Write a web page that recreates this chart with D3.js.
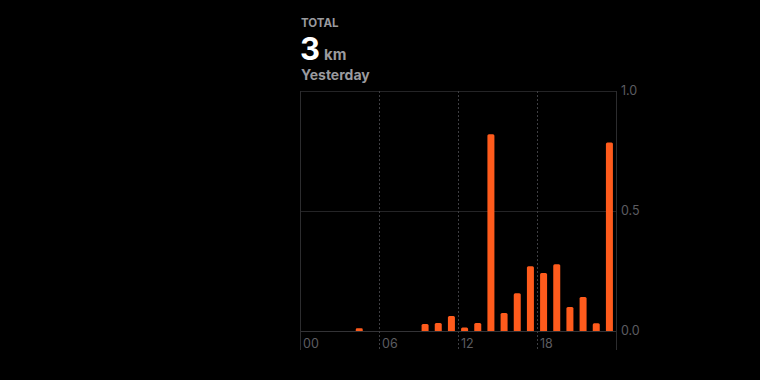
<!DOCTYPE html>
<html>
<head>
<meta charset="utf-8">
<script src="https://cdn.jsdelivr.net/npm/d3@7"></script>
<style>
  html, body { margin: 0; padding: 0; background: #000; }
  svg { display: block; font-family: "Inter", "Roboto", sans-serif; }
</style>
</head>
<body>
<svg id="chart" width="760" height="380"></svg>
<script>
// distance per hour, yesterday (km)
var hours = [4, 9, 10, 11, 12, 13, 14, 15, 16, 17, 18, 19, 20, 21, 22, 23];
var values = [0.011, 0.029, 0.033, 0.062, 0.015, 0.033, 0.82, 0.075, 0.157, 0.27, 0.242, 0.278, 0.1, 0.142, 0.032, 0.785];
var xTicks = [0, 6, 12, 18];
var xTickLabels = ['00', '06', '12', '18'];
var yTicks = [0, 0.5, 1];
var yTickLabels = ['0.0', '0.5', '1.0'];

(function () {
  var svg = d3.select('#chart');
  var plotL = 300, plotR = 616, plotT = 91, plotB = 331, axisEnd = 350;
  var orange = '#ff5b1c', grid = '#242426', label = '#5c5c60';

  var x = d3.scaleLinear().domain([0, 24]).range([plotL, plotR]);
  var y = d3.scaleLinear().domain([0, 1]).range([plotB, plotT]);

  // header
  svg.append('text').attr('x', 301).attr('y', 27)
    .attr('fill', '#9a9a9e').style('font-size', '11.5px').style('font-weight', 700)
    .text('TOTAL');

  var big = svg.append('text').attr('x', 300).attr('y', 60).attr('fill', '#fff');
  big.append('tspan').style('font-size', '31px').style('font-weight', 700).text('3');
  big.append('tspan').attr('dx', 4).attr('fill', '#9a9a9e')
    .style('font-size', '15px').style('font-weight', 700).text('km');

  svg.append('text').attr('x', 301).attr('y', 80)
    .attr('fill', '#9a9a9e').style('font-size', '14px').style('font-weight', 700)
    .text('Yesterday');

  // grid
  svg.append('g').selectAll('line').data(yTicks).join('line')
    .attr('x1', plotL).attr('x2', plotR)
    .attr('y1', function (d) { return Math.round(y(d)) + 0.5; })
    .attr('y2', function (d) { return Math.round(y(d)) + 0.5; })
    .attr('stroke', function (d) { return d === 0 ? '#333336' : grid; })
    .attr('stroke-width', 1);

  svg.append('g').selectAll('line').data([0, 24]).join('line')
    .attr('x1', function (d) { return Math.round(x(d)) + 0.5; })
    .attr('x2', function (d) { return Math.round(x(d)) + 0.5; })
    .attr('y1', plotT).attr('y2', axisEnd)
    .attr('stroke', '#2c2c2e').attr('stroke-width', 1);

  svg.append('g').selectAll('line').data(xTicks.slice(1)).join('line')
    .attr('x1', function (d) { return Math.round(x(d)) + 0.5; })
    .attr('x2', function (d) { return Math.round(x(d)) + 0.5; })
    .attr('y1', plotT).attr('y2', axisEnd)
    .attr('stroke', '#3e3e42').attr('stroke-width', 1)
    .attr('stroke-dasharray', '2,2');

  // bars
  var bw = 7;
  svg.append('g').selectAll('path').data(hours).join('path')
    .attr('fill', orange)
    .attr('d', function (h, i) {
      var x0 = x(h + 0.5) - bw / 2, y0 = y(values[i]), y1 = y(0);
      var r = Math.min(1.5, (y1 - y0) / 2);
      return 'M' + x0 + ',' + y1 + 'V' + (y0 + r) +
        'Q' + x0 + ',' + y0 + ' ' + (x0 + r) + ',' + y0 +
        'H' + (x0 + bw - r) +
        'Q' + (x0 + bw) + ',' + y0 + ' ' + (x0 + bw) + ',' + (y0 + r) +
        'V' + y1 + 'Z';
    });

  // x labels
  svg.append('g').selectAll('text').data(xTicks).join('text')
    .attr('x', function (d) { return x(d) + 3; })
    .attr('y', 348)
    .attr('fill', label).style('font-size', '12.5px')
    .text(function (d, i) { return xTickLabels[i]; });

  // y labels
  svg.append('g').selectAll('text').data(yTicks).join('text')
    .attr('x', plotR + 5)
    .attr('y', function (d) { return y(d) + 4; })
    .attr('fill', label).style('font-size', '12.5px')
    .text(function (d, i) { return yTickLabels[i]; });
})();
</script>
</body>
</html>
